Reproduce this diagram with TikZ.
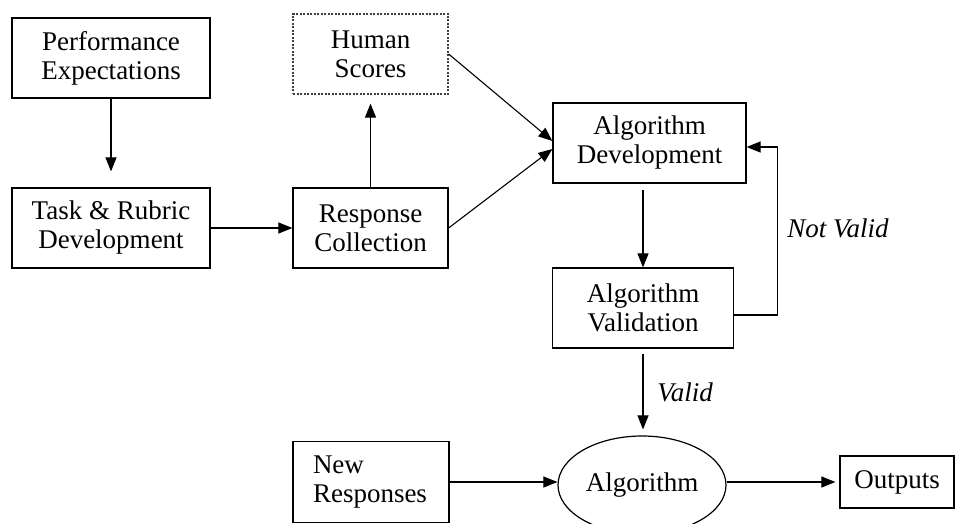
\documentclass[tikz,border=0pt]{standalone}
\usepackage{fontspec}
\setmainfont{Liberation Serif}
\usetikzlibrary{positioning,arrows.meta,shapes.geometric}
\tikzset{>={Triangle[width=11pt,length=14pt]}}

\begin{document}
\begin{tikzpicture}[
    x=1pt, y=-1pt,
    box/.style={
        draw=black,
        line width=1.2pt,
        align=center,
        inner sep=0pt,
        minimum height=80pt
        },
    line width=1.1pt,
    font=\fontsize{27}{29}\selectfont
    ]
    \useasboundingbox (0,0) rectangle (955,524);
    \begin{scope}[on grid]
    \node[box, minimum width=198pt] (perf) at (111,58) {Performance\\Expectations};
    \node[box, minimum width=198pt] (task) [below = 170pt of perf] {Task \& Rubric\\Development};
    \node[box, minimum width=155pt] (resp) [right = 259.5pt of task] {Response\\Collection};
    \node[box, minimum width=155pt, draw=black!75, dash pattern=on 2pt off 1.5pt] (human) [above = 174pt of resp] {Human\\Scores};
    \node[box, minimum width=193pt] (algdev) [above right = 85pt and 279pt of resp] {Algorithm\\Development};
    \node[box, minimum width=181pt] (algval) [below = 165pt of algdev, xshift=-6.5pt] {Algorithm\\Validation};
    \node[ellipse, draw=black, line width=1.2pt, inner sep=0pt, minimum width=168pt, minimum height=98pt] (algo) [below = 177pt of algval, xshift=-1pt] {Algorithm};
    \node[box, minimum height=81pt, inner xsep=20pt, text width=116pt, align=left] (newresp) [left = 271pt of algo, yshift=3pt] {New\\Responses};
    \node[box, minimum width=114pt, minimum height=52pt] (outputs) [right = 255pt of algo, yshift=3pt] {Outputs};
    \end{scope}

    \node[font=\fontsize{27}{29}\selectfont\itshape] (notvalid) at (838,228) {Not Valid};
    \node[font=\fontsize{27}{29}\selectfont\itshape] (valid) at (685,392) {Valid};

    \draw[->, shorten >=16pt] (perf) -- (task);
    \draw[->] (task.east) -- (task.east -| resp.west);
    \draw[->, shorten >=9pt] (resp) -- (human);
    \draw[->] (human.east) -- ([yshift=2pt]algdev.west);
    \draw[->] (resp.east) -- ([yshift=-6pt]algdev.west);
    \draw[->, shorten <=6pt] (algdev.south -| algval.north) -- (algval.north);
    \draw[->, shorten <=5pt, shorten >=6pt] (algval.south) -- (algval.south |- algo.north);
    \draw[->] ([yshift=-7pt]algval.east) -- ++(43,0) |- ([yshift=-4pt]algdev.east);
    \draw[->] (newresp.east) -- (newresp.east -| algo.west);
    \draw[->, shorten >=4pt] (algo.east |- outputs.west) -- (outputs.west);
\end{tikzpicture}
\end{document}
